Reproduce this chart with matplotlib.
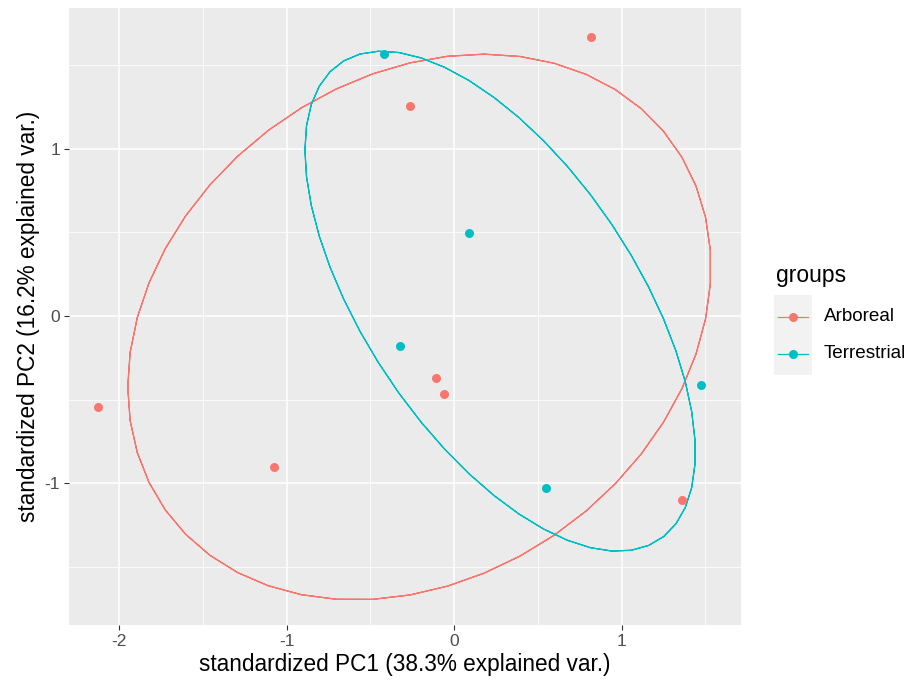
import numpy as np
import matplotlib
matplotlib.use("Agg")
import matplotlib.pyplot as plt
from matplotlib.lines import Line2D
from matplotlib.patches import Rectangle

plt.rcParams['font.family'] = ['Liberation Sans', 'DejaVu Sans']

groups = ["Arboreal", "Terrestrial"]
colors = {"Arboreal": "#F8766D", "Terrestrial": "#00BFC4"}
arboreal_pc1 = [0.820, -0.263, -0.108, -0.060, -2.126, -1.078, 1.359]
arboreal_pc2 = [1.671, 1.257, -0.371, -0.467, -0.545, -0.904, -1.102]
terrestrial_pc1 = [-0.419, 0.090, -0.323, 1.473, 0.551]
terrestrial_pc2 = [1.569, 0.497, -0.180, -0.413, -1.030]
ellipse_prob = 0.68
xticks = [-2, -1, 0, 1]
yticks = [-1, 0, 1]
xlabel = "standardized PC1 (38.3% explained var.)"
ylabel = "standardized PC2 (16.2% explained var.)"

data = {"Arboreal": (arboreal_pc1, arboreal_pc2),
        "Terrestrial": (terrestrial_pc1, terrestrial_pc2)}

W, H = 912, 689
fig = plt.figure(figsize=(W / 100, H / 100), dpi=100)
fig.patch.set_facecolor("white")
ax = fig.add_axes([69 / W, 1 - 625 / H, (741 - 69) / W, (625 - 8) / H])
ax.set_facecolor("#EBEBEB")
ax.set_xlim(-2.30, 1.713)
ax.set_ylim(-1.85, 1.844)

# grid
for v in np.arange(-2.5, 2.0, 0.5):
    major = float(v).is_integer()
    ax.axvline(v, color="white", lw=1.1 if major else 0.55, zorder=0)
for v in np.arange(-2.0, 2.0, 0.5):
    major = float(v).is_integer()
    ax.axhline(v, color="white", lw=1.1 if major else 0.55, zorder=0)

theta = np.concatenate([np.linspace(-np.pi, np.pi, 50), np.linspace(np.pi, -np.pi, 50)])
circle = np.column_stack([np.cos(theta), np.sin(theta)])
ed = np.sqrt(-2 * np.log(1 - ellipse_prob))

for g in groups:
    x, y = np.array(data[g][0]), np.array(data[g][1])
    ax.scatter(x, y, s=42, color=colors[g], zorder=3, linewidths=0)
    sigma = np.cov(np.vstack([x, y]))
    R = np.linalg.cholesky(sigma).T
    mu = np.array([x.mean(), y.mean()])
    ell = circle @ R * ed + mu
    ax.plot(ell[:, 0], ell[:, 1], color=colors[g], lw=0.9, zorder=2)

for s in ax.spines.values():
    s.set_visible(False)
ax.set_xticks(xticks)
ax.set_yticks(yticks)
ax.set_xticklabels([str(t) for t in xticks])
ax.set_yticklabels([str(t) for t in yticks])
ax.tick_params(axis="both", colors="#333333", length=3.5, width=0.8,
               labelsize=12.5, labelcolor="#4D4D4D", pad=3)
ax.set_xlabel(xlabel, fontsize=16.3, color="black", labelpad=3)
ax.set_ylabel(ylabel, fontsize=16.3, color="black", labelpad=3)

# legend
fig.text(776 / W, 1 - 275 / H, "groups", fontsize=16.5, va="center", ha="left")
fig.patches.append(Rectangle((774 / W, 1 - 375 / H), 38 / W, 80 / H,
                             transform=fig.transFigure, facecolor="#F2F2F2",
                             edgecolor="none", figure=fig))
for i, g in enumerate(groups):
    yc = 1 - (317 + i * 37) / H
    fig.lines.append(Line2D([778 / W, 808 / W], [yc, yc], transform=fig.transFigure,
                            color=colors[g], lw=0.9, figure=fig))
    fig.lines.append(Line2D([793 / W], [yc], transform=fig.transFigure, marker="o",
                            markersize=6.5, color=colors[g], markeredgewidth=0, figure=fig))
    fig.text(824 / W, yc, g, fontsize=13.6, va="center", ha="left", color="black")

fig.savefig("out.png", dpi=100)
